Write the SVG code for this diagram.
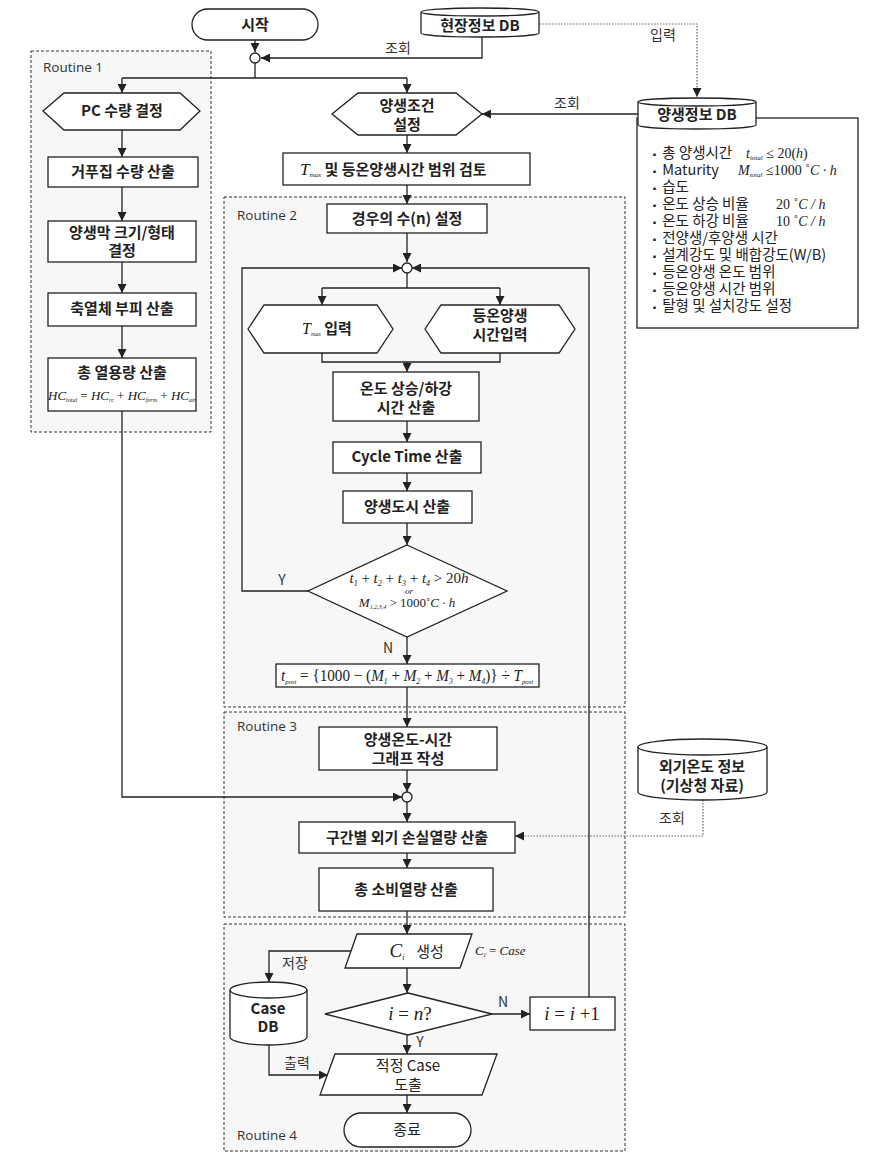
<svg xmlns="http://www.w3.org/2000/svg" width="880" height="1161" viewBox="0 0 880 1161">
<style>
.rt{fill:#f7f7f7;stroke:#333;stroke-width:1;stroke-dasharray:3 2}
.nd{fill:#fff;stroke:#222;stroke-width:1.3}
.t{font-family:"Noto Sans CJK KR","Noto Sans",sans-serif;font-size:15px;font-weight:bold;text-anchor:middle;fill:#222}
.tn{font-family:"Noto Sans CJK KR","Noto Sans",sans-serif;font-size:15px;text-anchor:middle;fill:#222}
.lb{font-family:"Noto Sans CJK KR","Noto Sans",sans-serif;font-size:14px;text-anchor:middle;fill:#333}
.bl{font-family:"Noto Sans CJK KR","Noto Sans",sans-serif;font-size:14.5px;fill:#222}
.bu{font-size:9px}
.rl{font-family:"Open Sans","Liberation Sans",sans-serif;font-size:13.5px;fill:#333}
.m{font-family:"Liberation Serif",serif;font-style:italic;fill:#222}
.ln{fill:none;stroke:#222;stroke-width:1.3}
.dt{fill:none;stroke:#666;stroke-width:1.2;stroke-dasharray:1.5 1.5}
</style>
<defs>
<marker id="ah" markerUnits="userSpaceOnUse" markerWidth="9" markerHeight="9" refX="9" refY="4.5" orient="auto">
<path d="M0,0 L9,4.5 L0,9 z" fill="#222"/>
</marker>
</defs>
<rect width="880" height="1161" fill="#fff"/>

<g id="routines">
<rect class="rt" x="31" y="51" width="180" height="381"/>
<rect class="rt" x="224" y="197" width="401" height="510"/>
<rect class="rt" x="224" y="712" width="401" height="205"/>
<rect class="rt" x="224" y="924" width="401" height="227"/>
<text class="rl" x="43" y="72">Routine 1</text>
<text class="rl" x="237" y="220">Routine 2</text>
<text class="rl" x="237" y="731">Routine 3</text>
<text class="rl" x="237" y="1140">Routine 4</text>
</g>

<g id="connectors">
<path class="ln" d="M255,40 V52" marker-end="url(#ah)"/>
<path class="ln" d="M482,37 V58 H261" marker-end="url(#ah)"/>
<path class="ln" d="M255,63 V78"/>
<path class="ln" d="M122,78 H407"/>
<path class="ln" d="M122,78 V93" marker-end="url(#ah)"/>
<path class="ln" d="M407,78 V93" marker-end="url(#ah)"/>
<path class="dt" d="M540,24 H697 V97" marker-end="url(#ah)"/>
<path class="ln" d="M638,114 H482" marker-end="url(#ah)"/>
<path class="ln" d="M122,130 V157" marker-end="url(#ah)"/>
<path class="ln" d="M122,187 V221" marker-end="url(#ah)"/>
<path class="ln" d="M122,262 V293" marker-end="url(#ah)"/>
<path class="ln" d="M122,326 V358" marker-end="url(#ah)"/>
<path class="ln" d="M122,411 V797 H402" marker-end="url(#ah)"/>
<path class="ln" d="M407,135 V153" marker-end="url(#ah)"/>
<path class="ln" d="M407,185 V204" marker-end="url(#ah)"/>
<path class="ln" d="M407,233 V262" marker-end="url(#ah)"/>
<path class="ln" d="M407,273 V288"/>
<path class="ln" d="M322,288 H500"/>
<path class="ln" d="M322,288 V305" marker-end="url(#ah)"/>
<path class="ln" d="M500,288 V305" marker-end="url(#ah)"/>
<path class="ln" d="M322,353 V362 H500 V353"/>
<path class="ln" d="M407,362 V372" marker-end="url(#ah)"/>
<path class="ln" d="M407,421 V442" marker-end="url(#ah)"/>
<path class="ln" d="M407,473 V491" marker-end="url(#ah)"/>
<path class="ln" d="M407,523 V545" marker-end="url(#ah)"/>
<path class="ln" d="M308,591 H242 V268 H402" marker-end="url(#ah)"/>
<path class="ln" d="M407,637 V664" marker-end="url(#ah)"/>
<path class="ln" d="M407,687 V727" marker-end="url(#ah)"/>
<path class="ln" d="M407,770 V792" marker-end="url(#ah)"/>
<path class="ln" d="M407,802 V822" marker-end="url(#ah)"/>
<path class="dt" d="M703,800 V836 H515" marker-end="url(#ah)"/>
<path class="ln" d="M407,853 V868" marker-end="url(#ah)"/>
<path class="ln" d="M407,911 V934" marker-end="url(#ah)"/>
<path class="ln" d="M351,951 H269 V982" marker-end="url(#ah)"/>
<path class="ln" d="M407,968 V993" marker-end="url(#ah)"/>
<path class="ln" d="M492,1014 H530" marker-end="url(#ah)"/>
<path class="ln" d="M589,997 V268 H412" marker-end="url(#ah)"/>
<path class="ln" d="M407,1035 V1054" marker-end="url(#ah)"/>
<path class="ln" d="M269,1045 V1075 H328" marker-end="url(#ah)"/>
<path class="ln" d="M407,1095 V1113" marker-end="url(#ah)"/>
<text class="lb" x="398" y="53">조회</text>
<text class="lb" x="663" y="40">입력</text>
<text class="lb" x="567" y="108">조회</text>
<text class="lb" x="672" y="823">조회</text>
<text class="lb" x="295" y="968">저장</text>
<text class="lb" x="297" y="1068">출력</text>
<text class="lb" x="282" y="585">Y</text>
<text class="lb" x="388" y="653">N</text>
<text class="lb" x="503" y="1007">N</text>
<text class="lb" x="420" y="1047">Y</text>
</g>

<g id="start">
<rect class="nd" x="192" y="9" width="126" height="31" rx="15.5"/>
<text class="t" x="255" y="30">시작</text>
</g>
<g id="j-top"><circle class="nd" cx="255" cy="58" r="5"/></g>

<g id="db-site">
<path class="nd" d="M421,12 A59,4 0 0 1 539,12 V33 A59,4 0 0 1 421,33 Z"/>
<path class="ln" d="M421,12 A59,4 0 0 0 539,12"/>
<text class="t" x="480" y="31">현장정보 DB</text>
</g>

<g id="db-curing">
<rect class="nd" x="637" y="118" width="221" height="210"/>
<path class="nd" d="M638,102 A59,4 0 0 1 756,102 V125 A59,4 0 0 1 638,125 Z"/>
<path class="ln" d="M638,102 A59,4 0 0 0 756,102"/>
<text class="t" x="697" y="120">양생정보 DB</text>
<text class="bl" x="650" y="158"><tspan class="bu">▪</tspan> 총 양생시간</text>
<text class="m" x="746" y="158" font-size="14">t<tspan font-size="7" dy="2">total</tspan><tspan dy="-2" font-style="normal"> ≤ 20(</tspan>h<tspan font-style="normal">)</tspan></text>
<text class="bl" x="650" y="175"><tspan class="bu">▪</tspan> Maturity</text>
<text class="m" x="738" y="175" font-size="14">M<tspan font-size="7" dy="2">total</tspan><tspan dy="-2" font-style="normal"> ≤1000  ˚</tspan>C · h</text>
<text class="bl" x="650" y="192"><tspan class="bu">▪</tspan> 습도</text>
<text class="bl" x="650" y="209"><tspan class="bu">▪</tspan> 온도 상승 비율</text>
<text class="m" x="776" y="209" font-size="14"><tspan font-style="normal">20  ˚</tspan>C / h</text>
<text class="bl" x="650" y="226"><tspan class="bu">▪</tspan> 온도 하강 비율</text>
<text class="m" x="776" y="226" font-size="14"><tspan font-style="normal">10  ˚</tspan>C / h</text>
<text class="bl" x="650" y="243"><tspan class="bu">▪</tspan> 전양생/후양생 시간</text>
<text class="bl" x="650" y="260"><tspan class="bu">▪</tspan> 설계강도 및 배합강도(W/B)</text>
<text class="bl" x="650" y="277"><tspan class="bu">▪</tspan> 등온양생 온도 범위</text>
<text class="bl" x="650" y="294"><tspan class="bu">▪</tspan> 등온양생 시간 범위</text>
<text class="bl" x="650" y="311"><tspan class="bu">▪</tspan> 탈형 및 설치강도 설정</text>
</g>

<g id="pc">
<polygon class="nd" points="43,111 64,93 180,93 200,111 180,130 64,130"/>
<text class="t" x="122" y="116">PC 수량 결정</text>
</g>
<g id="form">
<rect class="nd" x="48" y="157" width="150" height="30"/>
<text class="t" x="123" y="177">거푸집 수량 산출</text>
</g>
<g id="membrane">
<rect class="nd" x="48" y="221" width="148" height="41"/>
<text class="t" x="122" y="238">양생막 크기/형태</text>
<text class="t" x="122" y="256">결정</text>
</g>
<g id="heat-body">
<rect class="nd" x="48" y="293" width="148" height="33"/>
<text class="t" x="122" y="314">축열체 부피 산출</text>
</g>
<g id="heat-cap">
<rect class="nd" x="48" y="358" width="148" height="53"/>
<text class="t" x="122" y="378">총 열용량 산출</text>
<text class="m" x="122" y="400" font-size="13" text-anchor="middle">HC<tspan font-size="6" dy="2">total</tspan><tspan dy="-2" font-style="normal"> = </tspan>HC<tspan font-size="6" dy="2">rc</tspan><tspan dy="-2" font-style="normal"> + </tspan>HC<tspan font-size="6" dy="2">form</tspan><tspan dy="-2" font-style="normal"> + </tspan>HC<tspan font-size="6" dy="2">air</tspan></text>
</g>

<g id="cond">
<polygon class="nd" points="332,114 358,93 456,93 482,114 456,135 358,135"/>
<text class="t" x="407" y="111">양생조건</text>
<text class="t" x="407" y="130">설정</text>
</g>
<g id="review">
<rect class="nd" x="283" y="153" width="247" height="32"/>
<text x="300" y="175"><tspan class="m" font-size="17">T</tspan><tspan class="m" font-size="7" dy="2">max</tspan><tspan class="t" dy="-2" style="text-anchor:start"> 및 등온양생시간 범위 검토</tspan></text>
</g>

<g id="cases">
<rect class="nd" x="327" y="204" width="160" height="29"/>
<text class="t" x="407" y="224">경우의 수(n) 설정</text>
</g>
<g id="j-loop"><circle class="nd" cx="407" cy="268" r="5"/></g>
<g id="tmax">
<polygon class="nd" points="248,329 264,305 377,305 393,329 377,353 264,353"/>
<text x="302" y="334"><tspan class="m" font-size="16">T</tspan><tspan class="m" font-size="6" dy="2">max</tspan><tspan class="t" dy="-2" style="text-anchor:start"> 입력</tspan></text>
</g>
<g id="iso-time">
<polygon class="nd" points="425,329 441,305 559,305 575,329 559,353 441,353"/>
<text class="t" x="500" y="321">등온양생</text>
<text class="t" x="500" y="340">시간입력</text>
</g>
<g id="rise">
<rect class="nd" x="333" y="372" width="146" height="49"/>
<text class="t" x="406" y="394">온도 상승/하강</text>
<text class="t" x="406" y="413">시간 산출</text>
</g>
<g id="cycle">
<rect class="nd" x="333" y="442" width="148" height="31"/>
<text class="t" x="407" y="462">Cycle Time 산출</text>
</g>
<g id="drawing">
<rect class="nd" x="343" y="491" width="129" height="32"/>
<text class="t" x="407" y="512">양생도시 산출</text>
</g>
<g id="check">
<polygon class="nd" points="407,545 507,591 407,637 308,591"/>
<text class="m" x="409" y="583" font-size="15" text-anchor="middle">t<tspan font-size="8" dy="3">1</tspan><tspan dy="-3" font-style="normal"> + </tspan>t<tspan font-size="8" dy="3">2</tspan><tspan dy="-3" font-style="normal"> + </tspan>t<tspan font-size="8" dy="3">3</tspan><tspan dy="-3" font-style="normal"> + </tspan>t<tspan font-size="8" dy="3">4</tspan><tspan dy="-3" font-style="normal"> &gt; 20</tspan>h</text>
<text class="m" x="409" y="594" font-size="9" text-anchor="middle">or</text>
<text class="m" x="407" y="607" font-size="13" text-anchor="middle">M<tspan font-size="6" dy="2">1,2,3,4</tspan><tspan dy="-2" font-style="normal"> &gt; 1000˚</tspan>C · h</text>
</g>
<g id="tpost">
<rect class="nd" x="276" y="664" width="263" height="23"/>
<text class="m" x="407" y="681" font-size="16" text-anchor="middle" textLength="252" lengthAdjust="spacingAndGlyphs">t<tspan font-size="7" dy="3">post</tspan><tspan dy="-3" font-style="normal"> = {1000 − (</tspan>M<tspan font-size="8" dy="3">1</tspan><tspan dy="-3" font-style="normal"> + </tspan>M<tspan font-size="8" dy="3">2</tspan><tspan dy="-3" font-style="normal"> + </tspan>M<tspan font-size="8" dy="3">3</tspan><tspan dy="-3" font-style="normal"> + </tspan>M<tspan font-size="8" dy="3">4</tspan><tspan dy="-3" font-style="normal">)} ÷ </tspan>T<tspan font-size="7" dy="3">post</tspan></text>
</g>

<g id="graph">
<rect class="nd" x="319" y="727" width="178" height="43"/>
<text class="t" x="408" y="745">양생온도-시간</text>
<text class="t" x="408" y="764">그래프 작성</text>
</g>
<g id="j-r3"><circle class="nd" cx="407" cy="797" r="5"/></g>
<g id="loss">
<rect class="nd" x="299" y="822" width="216" height="31"/>
<text class="t" x="407" y="843">구간별 외기 손실열량 산출</text>
</g>
<g id="total">
<rect class="nd" x="319" y="868" width="174" height="43"/>
<text class="t" x="406" y="895">총 소비열량 산출</text>
</g>
<g id="db-weather">
<path class="nd" d="M638,747 A64.5,8 0 0 1 767,747 V792 A64.5,8 0 0 1 638,792 Z"/>
<path class="ln" d="M638,747 A64.5,8 0 0 0 767,747"/>
<text class="t" x="702" y="772">외기온도 정보</text>
<text class="t" x="702" y="791">(기상청 자료)</text>
</g>

<g id="ci">
<polygon class="nd" points="357,934 472,934 460,968 345,968"/>
<text x="397" y="957" text-anchor="middle"><tspan class="m" font-size="19">C</tspan><tspan class="m" font-size="8" dy="3">i</tspan></text>
<text class="tn" x="430" y="957">생성</text>
<text class="m" x="475" y="955" font-size="13">C<tspan font-size="7" dy="2">i</tspan><tspan dy="-2" font-style="normal"> = </tspan>Case</text>
</g>
<g id="db-case">
<path class="nd" d="M230,990 A38.5,8 0 0 1 307,990 V1037 A38.5,8 0 0 1 230,1037 Z"/>
<path class="ln" d="M230,990 A38.5,8 0 0 0 307,990"/>
<text class="t" x="268" y="1014">Case</text>
<text class="t" x="268" y="1032">DB</text>
</g>
<g id="done">
<polygon class="nd" points="408,993 492,1014 408,1035 325,1014"/>
<text class="m" x="410" y="1020" font-size="19" text-anchor="middle">i <tspan font-style="normal">=</tspan> n<tspan font-style="normal">?</tspan></text>
</g>
<g id="inc">
<rect class="nd" x="530" y="997" width="85" height="33"/>
<text class="m" x="572" y="1020" font-size="19" text-anchor="middle">i <tspan font-style="normal">=</tspan> i <tspan font-style="normal">+1</tspan></text>
</g>
<g id="best">
<polygon class="nd" points="335,1054 497,1054 482,1095 320,1095"/>
<text class="tn" x="408" y="1071">적정 Case</text>
<text class="tn" x="408" y="1090">도출</text>
</g>
<g id="end">
<rect class="nd" x="344" y="1113" width="127" height="34" rx="17"/>
<text class="tn" x="407" y="1135">종료</text>
</g>
</svg>
